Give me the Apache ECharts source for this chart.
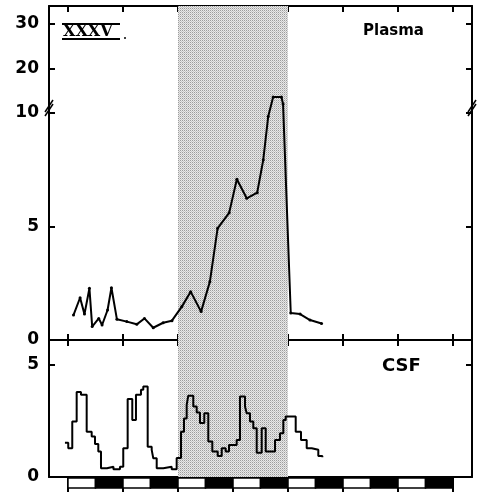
<!DOCTYPE html>
<html>
<head>
    <meta charset="utf-8" />
    <title>Plasma / CSF</title>
    <script src="https://cdn.jsdelivr.net/npm/echarts@6.0.0/dist/echarts.min.js"></script>
    <style>
        body { margin: 0; background: #fff; }
    </style>
</head>
<body>
<div id="main" style="width: 479px;height:493px;"></div>
<script type="text/javascript">
    // time in days
    var plasmaDay = [0.10, 0.22, 0.30, 0.39, 0.44, 0.56, 0.62, 0.72, 0.79, 0.89, 1.07, 1.25, 1.39, 1.55, 1.73, 1.89,
        2.07, 2.23, 2.42, 2.58, 2.72, 2.93, 3.07, 3.25, 3.44, 3.55, 3.64, 3.73, 3.88, 3.91, 4.05, 4.22, 4.40, 4.61];
    var plasmaConc = [1.10, 1.86, 1.14, 2.28, 0.59, 0.95, 0.66, 1.32, 2.30, 0.91, 0.81, 0.69, 0.95, 0.54, 0.76, 0.85,
        1.47, 2.13, 1.25, 2.57, 4.92, 5.60, 7.08, 6.24, 6.49, 7.93, 9.84, 13.6, 13.6, 12.0, 1.19, 1.14, 0.88, 0.73];

    var csfDay = [-0.055, 0.005, 0.078, 0.158, 0.236, 0.340, 0.431, 0.491, 0.551, 0.600, 0.709, 0.827, 0.945,
        1.005, 1.085, 1.169, 1.236, 1.327, 1.369, 1.449, 1.522, 1.551, 1.613, 1.733, 1.885, 1.976,
        2.055, 2.109, 2.158, 2.187, 2.278, 2.340, 2.400, 2.478, 2.551, 2.624, 2.722, 2.795, 2.867, 2.927,
        3.067, 3.127, 3.218, 3.249, 3.309, 3.369, 3.431, 3.522, 3.595, 3.764, 3.855, 3.915, 3.958,
        4.140, 4.236, 4.340, 4.431, 4.551, 4.624];
    var csfConc = [1.53, 1.28, 2.47, 3.78, 3.66, 2.02, 1.80, 1.47, 1.13, 0.39, 0.46, 0.34, 0.46,
        1.28, 3.47, 2.54, 3.66, 3.88, 4.03, 1.35, 1.21, 0.83, 0.39, 0.46, 0.34, 0.85,
        2.02, 2.60, 3.21, 3.62, 3.14, 2.87, 2.40, 2.84, 1.58, 1.13, 0.94, 1.28, 1.13, 1.43,
        1.65, 3.58, 3.14, 2.84, 2.47, 2.17, 1.08, 2.17, 1.13, 1.65, 1.95, 2.54, 2.69,
        2.02, 1.65, 1.28, 1.21, 0.94, 0.88];

    var dayTicks = [0, 1, 2, 3, 4, 5, 6, 7];
    var plasmaTicks = [5, 10, 20, 30];
    var plasmaLabels = [0, 5, 10, 20, 30];
    var csfTicks = [5];
    var csfLabels = [0, 5];
    var shadedDays = [2, 4];
    // light (0) / dark (1) half days
    var lightDark = [0, 1, 0, 1, 0, 1, 0, 1, 0, 1, 0, 1, 0, 1];

    // plasma axis: linear to 10, compressed above
    var BREAK = 10, K = 0.196;
    function tf(v) { return v <= BREAK ? v : BREAK + (v - BREAK) * K; }
    function inv(t) { return t <= BREAK + 1e-6 ? t : BREAK + (t - BREAK) / K; }

    var plasmaData = plasmaDay.map(function (d, i) { return [d, tf(plasmaConc[i])]; });
    var csfData = csfDay.map(function (d, i) { return [d, csfConc[i]]; });
    var barData = lightDark.map(function (t, i) { return [i * 0.5, i * 0.5 + 0.5, t]; });

    // stipple for the shaded period
    var pat = document.createElement('canvas');
    pat.width = 2; pat.height = 2;
    var pc = pat.getContext('2d');
    pc.fillStyle = '#e8e8e8'; pc.fillRect(0, 0, 2, 2);
    pc.fillStyle = '#9c9c9c'; pc.fillRect(0, 0, 1, 1);
    pc.fillStyle = '#c6c6c6'; pc.fillRect(1, 1, 1, 1);
    var shade = { image: pat, repeat: 'repeat' };

    var font = 'DejaVu Sans';
    var lineAx = { show: true, onZero: false, lineStyle: { color: '#000', width: 2 } };

    function xAx(grid, pos, tickLen, inside) {
        return {
            type: 'value', gridIndex: grid, position: pos, min: -0.345, max: 7.345,
            axisLine: lineAx,
            axisTick: { show: tickLen > 0, inside: inside, length: tickLen, customValues: dayTicks,
                lineStyle: { color: '#000', width: 2 } },
            axisLabel: { show: false },
            splitLine: { show: false }
        };
    }

    var myChart = echarts.init(document.getElementById('main'));
    var option = {
        animation: false,
        backgroundColor: '#fff',
        title: [
            { text: 'Plasma', left: 363, top: 24, padding: 0,
                textStyle: { fontFamily: font, fontSize: 15, fontWeight: 'bold', color: '#000' } },
            { text: 'CSF', left: 382, top: 357, padding: 0,
                textStyle: { fontFamily: font, fontSize: 18, fontWeight: 'bold', color: '#000' } }
        ],
        grid: [
            { left: 49, right: 7, top: 6, height: 334 },
            { left: 49, right: 7, top: 340, height: 137 },
            { left: 49, right: 7, top: 478, height: 10 }
        ],
        xAxis: [
            xAx(0, 'bottom', 6, true),
            xAx(0, 'top', 6, true),
            xAx(1, 'bottom', 15, false),
            xAx(1, 'top', 6, true),
            { type: 'value', gridIndex: 2, min: -0.345, max: 7.345, show: false }
        ],
        yAxis: [
            {
                type: 'value', gridIndex: 0, position: 'left', min: 0, max: 14.71,
                axisLine: lineAx,
                axisTick: { show: true, inside: true, length: 6, customValues: plasmaTicks.map(tf),
                    lineStyle: { color: '#000', width: 2 } },
                axisLabel: { show: true, margin: 10, customValues: plasmaLabels.map(tf),
                    fontFamily: font, fontSize: 17, fontWeight: 'bold', color: '#000',
                    formatter: function (v) { return String(Math.round(inv(v))); } },
                splitLine: { show: false }
            },
            {
                type: 'value', gridIndex: 0, position: 'right', min: 0, max: 14.71,
                axisLine: lineAx,
                axisTick: { show: true, inside: true, length: 6, customValues: plasmaTicks.map(tf),
                    lineStyle: { color: '#000', width: 2 } },
                axisLabel: { show: false },
                splitLine: { show: false }
            },
            {
                type: 'value', gridIndex: 1, position: 'left', min: 0, max: 6.1,
                axisLine: lineAx,
                axisTick: { show: true, inside: true, length: 6, customValues: csfTicks,
                    lineStyle: { color: '#000', width: 2 } },
                axisLabel: { show: true, margin: 10, customValues: csfLabels,
                    fontFamily: font, fontSize: 17, fontWeight: 'bold', color: '#000' },
                splitLine: { show: false }
            },
            {
                type: 'value', gridIndex: 1, position: 'right', min: 0, max: 6.1,
                axisLine: lineAx,
                axisTick: { show: true, inside: true, length: 6, customValues: csfTicks,
                    lineStyle: { color: '#000', width: 2 } },
                axisLabel: { show: false },
                splitLine: { show: false }
            },
            { type: 'value', gridIndex: 2, min: 0, max: 1, show: false }
        ],
        series: [
            {
                name: 'Plasma', type: 'line', xAxisIndex: 0, yAxisIndex: 0,
                data: plasmaData,
                symbol: 'circle', symbolSize: 3,
                itemStyle: { color: '#000' },
                lineStyle: { color: '#000', width: 2 },
                markArea: {
                    silent: true,
                    itemStyle: { color: shade },
                    data: [[{ xAxis: shadedDays[0] }, { xAxis: shadedDays[1] }]]
                },
                z: 3
            },
            {
                name: 'CSF', type: 'line', xAxisIndex: 2, yAxisIndex: 2,
                data: csfData, step: 'end',
                symbol: 'none',
                lineStyle: { color: '#000', width: 2 },
                markArea: {
                    silent: true,
                    itemStyle: { color: shade },
                    data: [[{ xAxis: shadedDays[0] }, { xAxis: shadedDays[1] }]]
                },
                z: 3
            },
            {
                name: 'light/dark', type: 'custom', xAxisIndex: 4, yAxisIndex: 4,
                data: barData,
                encode: { x: [0, 1] },
                renderItem: function (params, api) {
                    var a = api.coord([api.value(0), 1]);
                    var b = api.coord([api.value(1), 0]);
                    return {
                        type: 'rect',
                        shape: { x: a[0], y: a[1], width: b[0] - a[0], height: b[1] - a[1] },
                        style: { fill: api.value(2) ? '#000' : '#fff', stroke: '#000', lineWidth: 1.5 }
                    };
                },
                z: 1
            }
        ],
        graphic: [
            // roman numeral label
            { type: 'text', left: 63, top: 24,
                style: { text: 'XXXV', font: 'bold 16px "DejaVu Serif"', fill: '#000' } },
            { type: 'line', shape: { x1: 62, y1: 24, x2: 120, y2: 24 }, style: { stroke: '#000', lineWidth: 2 } },
            { type: 'line', shape: { x1: 62, y1: 39, x2: 120, y2: 39 }, style: { stroke: '#000', lineWidth: 2 } },
            { type: 'circle', shape: { cx: 125, cy: 38, r: 1 }, style: { fill: '#000' } },
            // axis break marks
            { type: 'polyline', shape: { points: [[45, 116], [53, 104]] }, style: { stroke: '#000', lineWidth: 1.5 } },
            { type: 'polyline', shape: { points: [[45, 112], [53, 100]] }, style: { stroke: '#000', lineWidth: 1.5 } },
            { type: 'polyline', shape: { points: [[468, 116], [476, 104]] }, style: { stroke: '#000', lineWidth: 1.5 } },
            { type: 'polyline', shape: { points: [[468, 112], [476, 100]] }, style: { stroke: '#000', lineWidth: 1.5 } }
        ]
    };
    myChart.setOption(option);
</script>
</body>
</html>
